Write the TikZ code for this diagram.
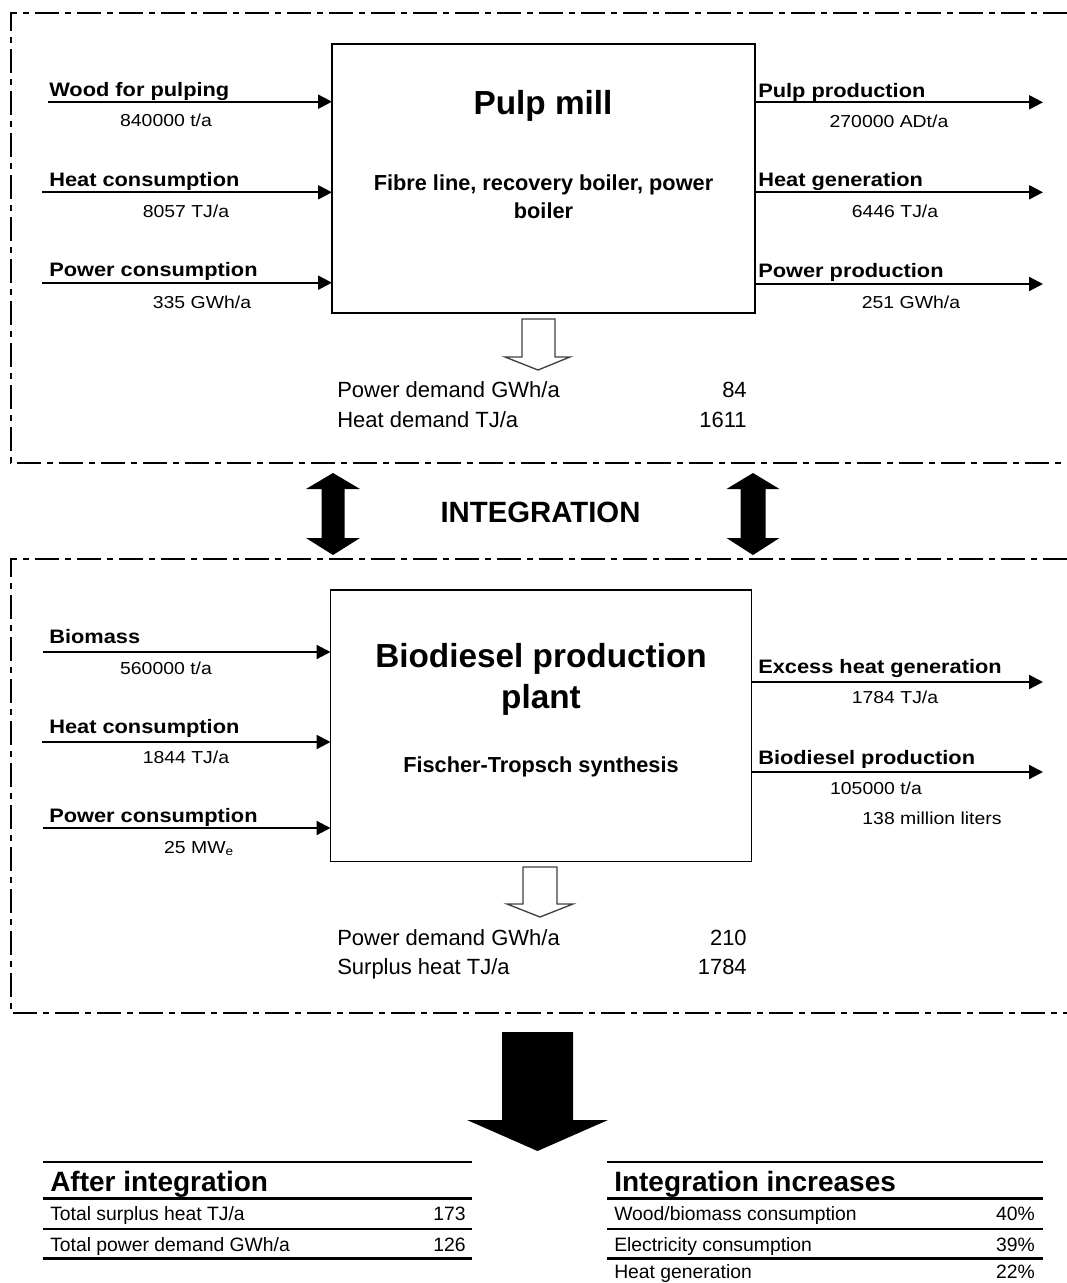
\documentclass[tikz,border=0pt]{standalone}
\usepackage{fontspec}
\setmainfont{Liberation Sans}
\newfontfamily\widesf{Liberation Sans}[FakeStretch=1.12]
\usetikzlibrary{arrows.meta,fit}

\begin{document}
\begin{tikzpicture}[x=0.75pt,y=-0.75pt,
  zoneframe/.style={line width=2.1pt, dash pattern=on 18pt off 4.5pt on 4.5pt off 4.5pt},
  procbox/.style={draw, line width=1.2pt, inner sep=0pt, outer sep=0pt},
  flow/.style={line width=1.6pt, -{Triangle[length=10.5pt,width=10.5pt]}},
  lab/.style={anchor=base west, inner sep=0pt, font=\widesf\bfseries\fontsize{14.6}{17}\selectfont},
  qty/.style={anchor=base, inner sep=0pt, font=\widesf\fontsize{13}{15}\selectfont},
  boxtitle/.style={inner sep=0pt, align=center, font=\bfseries\fontsize{25}{30.75}\selectfont},
  boxsub/.style={inner sep=0pt, align=center, font=\bfseries\fontsize{16.3}{21.4}\selectfont},
  sumtxt/.style={anchor=base west, inner sep=0pt, font=\fontsize{16.5}{19}\selectfont},
  sumval/.style={anchor=base east, inner sep=0pt, font=\fontsize{16.5}{19}\selectfont},
  hollow/.style={draw=black!75, line width=1pt, fill=white, line join=miter},
  blockarrow/.style={fill=black},
  thead/.style={anchor=base west, inner sep=0pt, font=\bfseries\fontsize{21}{24}\selectfont},
  trow/.style={anchor=base west, inner sep=0pt, font=\fontsize{14.5}{17}\selectfont},
  tval/.style={anchor=base east, inner sep=0pt, font=\fontsize{14.5}{17}\selectfont},
  rulethin/.style={line width=1pt},
  rulemid/.style={line width=1.5pt},
  rulethick/.style={line width=2.5pt}
]
\useasboundingbox (0,0) rectangle (1067,1283);

% ---------- dashed zones ----------
\draw[zoneframe] (1067,13) -- (11,13) -- (11,463) -- (1067,463);
\draw[zoneframe] (1067,559) -- (11,559) -- (11,1013) -- (1067,1013);

% ---------- pulp mill ----------
\node[procbox, fit={(332,44)(755,313)}] (pulp) {};
\node[boxtitle, anchor=base] (pulpT) at (543,114) {Pulp mill};
\node[boxsub] (pulpS) at (543.5,196.8) {Fibre line, recovery boiler, power\\boiler};

\coordinate (i1) at (48,101.7);
\coordinate (i2) at (42,192.3);
\coordinate (i3) at (42,282.7);
\draw[flow] (i1) -- (i1 -| pulp.west);
\draw[flow] (i2) -- (i2 -| pulp.west);
\draw[flow] (i3) -- (i3 -| pulp.west);
\node[lab] (i1L) at (49,96.5) {Wood for pulping};
\node[qty] (i1Q) at (166,126.2) {840000 t/a};
\node[lab] (i2L) at (49,186.5) {Heat consumption};
\node[qty] (i2Q) at (186,217.2) {8057 TJ/a};
\node[lab] (i3L) at (49,276.5) {Power consumption};
\node[qty] (i3Q) at (202,308.2) {335 GWh/a};

\coordinate (o1) at (1043,102.3);
\coordinate (o2) at (1043,192.3);
\coordinate (o3) at (1043,284);
\draw[flow] (o1 -| pulp.east) -- (o1);
\draw[flow] (o2 -| pulp.east) -- (o2);
\draw[flow] (o3 -| pulp.east) -- (o3);
\node[lab] (o1L) at (758,97) {Pulp production};
\node[qty] (o1Q) at (889,127.2) {270000 ADt/a};
\node[lab] (o2L) at (758,186.5) {Heat generation};
\node[qty] (o2Q) at (895,217.2) {6446 TJ/a};
\node[lab] (o3L) at (758,277.5) {Power production};
\node[qty] (o3Q) at (911,308.2) {251 GWh/a};

% demand of the mill
\draw[hollow] (522,319) -- (555,319) -- (555,357) -- (570,357) -- (538,370)
  -- (505,357) -- (522,357) -- cycle;
\node[sumtxt] (p1) at (337,397.6) {Power demand GWh/a};
\node[sumval] (p1v) at (747,397.6) {84};
\node[sumtxt] (p2) at (337,427.6) {Heat demand TJ/a};
\node[sumval] (p2v) at (747,427.6) {1611};

% ---------- integration ----------
\fill[blockarrow] (333,473) -- (360,489) -- (344.5,489) -- (344.5,538) -- (360,538)
  -- (333,555) -- (306,538) -- (321.5,538) -- (321.5,489) -- (306,489) -- cycle;
\fill[blockarrow] (753,473) -- (779.5,489) -- (765.5,489) -- (765.5,538) -- (779.5,538)
  -- (753,555) -- (726.5,538) -- (740.5,538) -- (740.5,489) -- (726.5,489) -- cycle;
\node[inner sep=0pt, font=\bfseries\fontsize{22}{26}\selectfont] (integ) at (540.5,512.5) {INTEGRATION};

% ---------- biodiesel plant ----------
\node[procbox, fit={(330.5,590)(751.5,861.5)}] (bio) {};
\node[boxtitle] (bioT) at (541,679) {Biodiesel production\\plant};
\node[boxsub, anchor=base] (bioS) at (541,772.6) {Fischer-Tropsch synthesis};

\coordinate (b1) at (43,652);
\coordinate (b2) at (42,742);
\coordinate (b3) at (43,828);
\draw[flow] (b1) -- (b1 -| bio.west);
\draw[flow] (b2) -- (b2 -| bio.west);
\draw[flow] (b3) -- (b3 -| bio.west);
\node[lab] (b1L) at (49,643) {Biomass};
\node[qty] (b1Q) at (166,674.2) {560000 t/a};
\node[lab] (b2L) at (49,733) {Heat consumption};
\node[qty] (b2Q) at (186,763.2) {1844 TJ/a};
\node[lab] (b3L) at (49,822) {Power consumption};
\node[qty] (b3Q) at (199,853.2) {25 MW\textsubscript{e}};

\coordinate (e1) at (1043,682);
\coordinate (e2) at (1043,772);
\draw[flow] (e1 -| bio.east) -- (e1);
\draw[flow] (e2 -| bio.east) -- (e2);
\node[lab] (e1L) at (758,673) {Excess heat generation};
\node[qty] (e1Q) at (895,703.2) {1784 TJ/a};
\node[lab] (e2L) at (758,764) {Biodiesel production};
\node[qty] (e2Q) at (876,794.2) {105000 t/a};
\node[qty] (e2R) at (932,824.2) {138 million liters};

% demand of the plant
\draw[hollow] (523,867) -- (557,867) -- (557,904) -- (573,904) -- (540,917)
  -- (507,904) -- (523,904) -- cycle;
\node[sumtxt] (q1) at (337,945.6) {Power demand GWh/a};
\node[sumval] (q1v) at (747,945.6) {210};
\node[sumtxt] (q2) at (337,974.6) {Surplus heat TJ/a};
\node[sumval] (q2v) at (747,974.6) {1784};

% ---------- result ----------
\fill[blockarrow] (502,1032) -- (573,1032) -- (573,1120) -- (608,1120) -- (537.5,1151)
  -- (467,1120) -- (502,1120) -- cycle;

% after integration table
\draw[rulethin] (43,1162) -- (472,1162);
\node[thead] (aT) at (50,1191) {After integration};
\draw[rulethick] (43,1198.5) -- (472,1198.5);
\node[trow] (a1) at (50,1220) {Total surplus heat TJ/a};
\node[tval] (a1v) at (466,1220) {173};
\draw[rulemid] (43,1228.5) -- (472,1228.5);
\node[trow] (a2) at (50,1251) {Total power demand GWh/a};
\node[tval] (a2v) at (466,1251) {126};
\draw[rulethick] (43,1258.5) -- (472,1258.5);

% integration increases table
\draw[rulethin] (607,1162) -- (1043,1162);
\node[thead] (cT) at (614,1191) {Integration increases};
\draw[rulethick] (607,1198.5) -- (1043,1198.5);
\node[trow] (c1) at (614,1220) {Wood/biomass consumption};
\node[tval] (c1v) at (1035,1220) {40\%};
\draw[rulemid] (607,1228.5) -- (1043,1228.5);
\node[trow] (c2) at (614,1251) {Electricity consumption};
\node[tval] (c2v) at (1035,1251) {39\%};
\draw[rulethick] (607,1258.5) -- (1043,1258.5);
\node[trow] (c3) at (614,1278) {Heat generation};
\node[tval] (c3v) at (1035,1278) {22\%};
\end{tikzpicture}
\end{document}
